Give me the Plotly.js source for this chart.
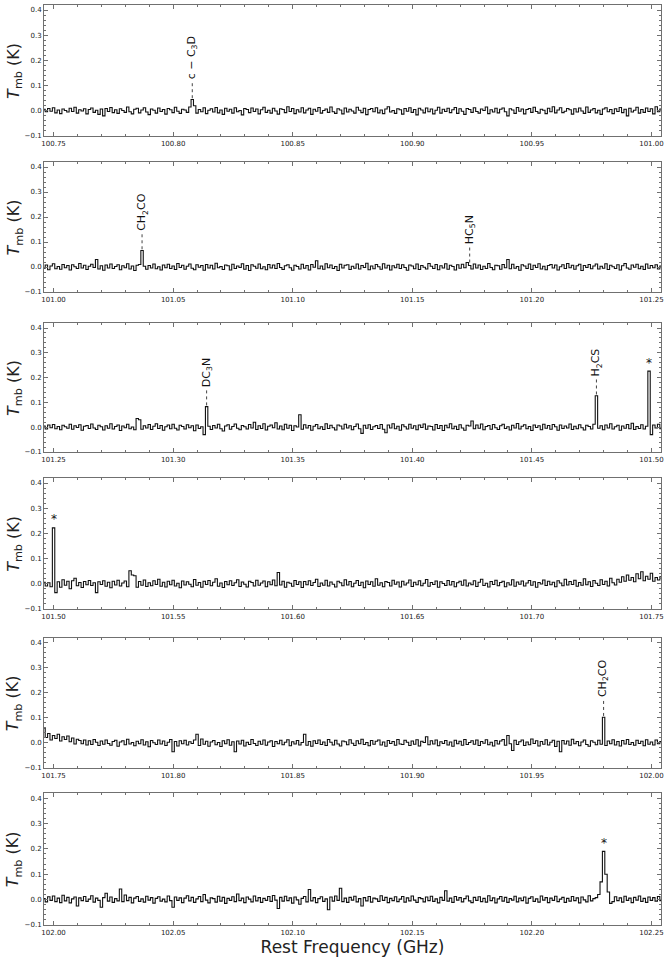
<!DOCTYPE html>
<html>
<head>
<meta charset="utf-8">
<script src="https://cdn.plot.ly/plotly-3.0.1.min.js"></script>
<style>html,body{margin:0;padding:0;background:#fff}#chart{width:667px;height:959px}</style>
</head>
<body>
<div id="chart"></div>
<script>
// Channel grid of each panel (GHz)
const channelWidth = 0.001;
const panelOrigins = [100.746, 100.996, 101.246, 101.496, 101.746, 101.996];
const panelEnds = [101.004, 101.254, 101.504, 101.754, 102.004, 102.254];
const panelTick0 = [100.75, 101.00, 101.25, 101.50, 101.75, 102.00];

// Main-beam temperature per channel, in mK
const tmb1 = [6,-4,9,-2,12,-8,3,-11,7,1,
-5,10,-3,14,-9,4,-1,8,-12,5,
11,-6,2,-14,7,-20,9,-3,13,-7,
4,-10,8,1,-6,15,-4,-12,6,10,
-8,3,12,-5,-15,7,2,-9,11,-3,
5,-13,9,4,-7,14,-2,-10,6,3,
-6,15,45,20,-9,5,-4,12,-11,2,
8,-5,13,-8,3,-14,10,-2,6,-9,
12,-4,1,-16,9,5,-7,11,-3,7,
-12,4,14,-6,2,-9,10,-1,-13,8,
5,-7,16,-3,9,-11,4,-5,12,-8,
3,10,-14,6,-2,13,-9,1,7,-6,
15,-4,-10,8,3,-12,11,-5,6,-1,
-9,14,2,-7,10,-15,5,9,-4,12,
-8,3,-11,7,16,-5,1,-10,8,4,
-13,9,-2,12,-6,5,-16,10,3,-8,
11,-4,7,-12,2,14,-9,6,-3,10,
-7,4,13,-10,8,-2,-14,9,5,-6,
12,-3,-9,7,1,15,-11,4,-5,10,
-8,6,11,-4,-20,8,3,-10,13,-2,
7,-12,5,9,-6,14,-3,-9,6,2,
-11,10,-4,16,-8,3,12,-7,-2,9,
4,-13,8,-5,11,-1,-10,15,-6,3,
9,-8,2,-14,7,12,-4,5,-11,8,
-3,13,-7,6,-20,10,-5,2,14,-9,
5,-6,11,-3,8,-12,16,-4,7];
const tmb2 = [-5,8,-11,4,13,-7,2,-9,10,-3,
6,-12,9,1,-6,14,-4,7,-10,3,
11,-2,30,-8,5,-13,8,-4,12,-6,
2,9,-11,5,-3,13,-8,4,-14,7,
10,66,3,-9,6,-4,12,-7,1,-12,
8,-3,11,-6,4,-10,14,-2,7,-9,
3,12,-5,-11,9,-1,6,-13,10,-4,
7,-8,15,-3,2,-10,8,5,-12,11,
-6,4,-2,13,-9,6,-14,9,3,-5,
12,-7,1,-11,10,-4,8,-6,14,-2,
-10,5,9,-3,-13,7,2,-8,11,-5,
6,-12,10,-1,25,-7,4,-9,13,-3,
8,-6,2,-14,11,-4,7,9,-10,3,
-5,12,-8,6,-2,15,-11,4,-7,10,
1,-9,13,-4,7,-12,5,-3,11,-6,
9,-2,-13,8,4,-7,12,-10,6,-1,
-8,14,3,-6,10,-11,5,-4,13,-9,
7,2,-12,9,-5,11,-3,18,6,-8,
12,-4,8,-10,3,-6,14,-2,-11,7,
5,-9,10,-3,30,-7,11,-5,2,-13,
9,4,-6,12,-10,7,-2,13,-8,3,
-11,6,10,-4,8,-12,1,9,-6,14,
-3,7,-9,5,11,-14,6,-2,10,-7,
4,12,-8,3,-5,13,-10,7,1,-6,
9,-12,5,14,-4,-9,8,-1,11,-7,
3,-10,12,-5,6,-3,9,-8,4];
const tmb3 = [5,-7,9,-2,11,-6,3,-10,8,2,
-4,12,-8,6,-1,10,-12,4,7,-5,
13,-3,-9,8,2,-11,6,-4,14,-7,
3,9,-13,5,-2,12,-6,1,-10,35,
30,-8,6,-3,11,-9,4,14,-5,7,
-12,2,9,-6,12,-4,-11,8,3,-7,
10,-2,6,-14,9,-5,2,-30,83,4,
-9,7,-3,12,-6,-15,5,10,-8,3,
13,-4,-10,7,2,-7,11,-3,20,-9,
6,-5,14,-11,4,9,-2,18,-7,5,
-10,12,-4,8,-13,6,1,50,-8,10,
-3,7,-12,4,11,-6,2,-9,14,-5,
8,-2,-11,9,5,-7,12,-3,6,-10,
3,13,-6,-25,8,-4,10,-9,2,7,
-5,11,-8,-22,9,-3,14,-6,4,-12,
10,2,-7,12,-4,6,-10,9,-1,13,
-8,5,3,-11,11,-5,7,-13,8,-2,
14,-6,4,-9,10,-3,-12,8,5,25,
-6,9,-4,13,-10,3,7,-8,11,-2,
-9,6,12,-5,2,-11,8,-3,15,-7,
4,10,-6,3,-13,9,-1,6,-10,12,
-4,7,-8,11,2,-12,9,-5,5,-3,
13,-9,4,-6,10,-2,-11,8,3,-7,
12,127,-4,6,-10,9,-3,14,-7,2,
8,-12,5,-4,11,-6,16,-9,3,-5,
10,-7,4,226,-30,9,-3,12,-6];
const tmb4 = [6,-9,4,-12,222,-35,8,-14,16,-6,
10,-20,12,22,-8,5,-15,9,-4,13,
-7,4,-35,8,-3,12,-10,6,-16,10,
-5,14,-9,3,11,-12,52,35,32,-14,
9,-6,15,-11,4,-8,12,-3,18,-10,
6,-13,10,-4,14,-9,2,-16,11,-5,
8,-2,-12,17,-6,5,-14,10,-3,13,
-8,6,20,-10,3,-15,9,-4,12,-7,
4,16,-11,7,-2,-13,10,5,-9,14,
-6,3,11,-12,8,-4,15,-8,45,-5,
10,-14,6,2,-10,13,-3,8,-15,9,
-4,12,-7,5,18,-11,3,-6,14,-9,
7,-2,-13,10,4,-8,16,-5,9,-12,
2,13,-7,6,-16,11,-3,8,-10,20,
-6,4,-12,9,5,-9,14,-2,7,-13,
10,-5,3,15,-11,6,-4,12,-8,2,
17,-10,5,-3,11,-14,8,1,-7,13,
-5,9,-12,4,10,-6,15,-9,3,-4,
12,-11,6,18,-7,2,-13,9,-3,14,
-8,5,10,-12,4,-5,16,-10,7,-2,
11,-9,3,13,-6,8,-14,5,-1,15,
-7,10,-4,6,-12,12,3,-8,18,-5,
9,-3,14,-10,5,-6,20,-4,8,-11,
13,2,-7,16,-3,10,-9,22,4,-5,
18,6,28,10,35,14,25,8,40,20,
48,12,30,18,42,10,25,15,28];
const tmb5 = [60,22,38,12,30,18,35,8,25,14,
28,5,20,-4,15,10,-3,12,-8,9,
-6,14,3,-10,8,-5,12,-2,-9,6,
11,-13,4,9,-7,15,-4,2,-11,7,
-3,13,-8,5,-15,10,1,-6,12,-4,
8,-10,3,14,-35,6,-12,9,-3,11,
-8,5,-2,12,35,-10,16,-5,7,-13,
4,10,-7,2,-14,9,-3,13,-9,5,
-35,8,-4,11,-12,3,-6,14,-2,-10,
7,-5,12,-9,4,9,-14,6,-3,11,
-7,3,13,-11,5,-4,10,-8,2,35,
-9,6,-13,9,-2,12,-6,4,-10,14,
3,-8,11,-4,-12,8,5,-7,13,-1,
-10,9,-3,15,-6,2,-11,10,-5,7,
12,-8,4,-13,10,-2,6,-9,14,-4,
-6,11,3,-10,8,-5,13,-12,7,2,
25,-7,9,-4,12,-11,5,-2,10,-8,
4,-13,11,-3,7,-9,14,-6,2,9,
-5,12,-10,6,-1,13,-7,3,-12,10,
-4,8,14,-9,30,-3,-30,11,-6,5,
12,-10,4,-7,16,-2,9,-12,6,-5,
13,-8,3,11,-14,7,-35,10,-4,8,
-9,15,-3,6,-11,4,12,-6,-13,9,
3,-7,11,-5,103,-10,8,-3,13,-8,
6,-12,10,-4,14,-6,2,-9,11,-2,
7,-11,13,-5,4,-8,12,-3,6];
const tmb6 = [4,-9,11,-3,14,-8,6,-12,17,-5,
9,-13,3,10,-25,7,-4,12,-7,2,
15,-10,6,-3,-30,8,25,-6,10,-11,
4,-5,42,-8,18,-4,9,-13,6,12,
-7,3,-10,13,-2,8,-14,5,11,-6,
2,-9,14,-4,-30,10,-3,7,-12,6,
15,-5,9,-11,3,12,-8,20,-2,-13,
7,4,-10,13,-6,9,-15,5,-3,11,
-8,22,-4,6,-12,10,2,-9,14,-5,
8,-11,5,-3,12,-7,16,-2,-35,9,
-6,13,-4,7,-14,10,-1,-18,5,12,
-9,40,-5,8,-12,4,11,-7,3,-40,
10,-6,14,-3,45,-8,6,-11,9,-2,
13,-9,4,-25,8,-5,12,-10,6,3,
-7,15,-3,9,-12,5,-4,11,-8,2,
12,-10,7,-5,14,-2,-11,8,4,-9,
10,-4,13,-7,3,-13,9,-3,35,-6,
6,-11,12,-2,8,-9,4,14,-5,-12,
9,-3,11,-8,5,-10,15,-4,7,-13,
3,12,-6,9,-11,4,-2,13,-9,6,
-4,10,-14,5,11,-7,3,-10,14,-2,
8,-12,6,-3,13,-8,2,9,-11,5,
-6,12,-4,7,-13,10,-1,-9,15,-5,
4,8,20,70,190,100,30,-15,-8,11,
-4,7,-10,13,-3,6,-12,9,-2,14,
-7,5,-11,10,-3,8,-6,12,-4];
const panelData = [tmb1, tmb2, tmb3, tmb4, tmb5, tmb6];

// Line identifications: panel index, channel index, label
const lineLabels = ["c − C<sub>3</sub>D", "CH<sub>2</sub>CO", "HC<sub>5</sub>N", "DC<sub>3</sub>N", "H<sub>2</sub>CS", "*", "*", "CH<sub>2</sub>CO", "*"];
const linePanels = [0, 1, 1, 2, 2, 2, 3, 4, 5];
const lineChannels = [62, 41, 178, 68, 231, 253, 4, 234, 234];
const lineBaseOffsetK = [0.005, 0.005, 0.012, 0.005, 0.005, 0.0, 0.0, 0.005, 0.0];

const yTitle = '<i>T</i><sub>mb</sub> (K)';
const xTitle = 'Rest Frequency (GHz)';

// Domains (paper fraction)
const yDomains = [[0.8576, 1.0], [0.6880, 0.8293], [0.5141, 0.6543], [0.3435, 0.4859], [0.1707, 0.3120], [0.0, 0.1435]];

const FONT = 'DejaVu Sans, Liberation Sans, sans-serif';
const FRAME = '#707070';

const traces = panelData.map((vals, k) => ({
  type: 'scatter', mode: 'lines',
  x: vals.map((v, i) => panelOrigins[k] + i * channelWidth),
  y: vals.map(v => v / 1000),
  xaxis: k === 0 ? 'x' : 'x' + (k + 1),
  yaxis: k === 0 ? 'y' : 'y' + (k + 1),
  line: {color: '#111', width: 1.1, shape: 'hvh'},
  hoverinfo: 'skip', showlegend: false
}));

const layout = {
  width: 667, height: 959,
  margin: {l: 44, r: 6, t: 5, b: 34},
  paper_bgcolor: '#fff', plot_bgcolor: '#fff',
  font: {family: FONT, color: '#222', size: 7},
  showlegend: false,
  shapes: [], annotations: []
};

for (let k = 0; k < 6; k++) {
  const xn = k === 0 ? 'xaxis' : 'xaxis' + (k + 1);
  const yn = k === 0 ? 'yaxis' : 'yaxis' + (k + 1);
  const xa = k === 0 ? 'x' : 'x' + (k + 1);
  const ya = k === 0 ? 'y' : 'y' + (k + 1);
  layout[xn] = {
    domain: [0, 1], anchor: ya, range: [panelOrigins[k], panelEnds[k]],
    tick0: panelTick0[k], dtick: 0.05, tickformat: '.2f',
    ticks: 'inside', ticklen: 4, tickwidth: 1, tickcolor: FRAME,
    minor: {ticks: 'inside', ticklen: 2, dtick: 0.01, tickcolor: FRAME, showgrid: false},
    showline: true, linecolor: FRAME, linewidth: 1, mirror: 'allticks',
    showgrid: false, zeroline: false, ticklabelstandoff: 1,
    tickfont: {family: FONT, size: 7, color: '#222'}
  };
  if (k === 5) {
    layout[xn].title = {text: xTitle, font: {family: FONT, size: 17, color: '#222'}, standoff: 2};
  }
  layout[yn] = {
    domain: yDomains[k], anchor: xa, range: [-0.1, 0.42],
    tick0: 0, dtick: 0.1, tickformat: '.1f',
    ticks: 'inside', ticklen: 4, tickwidth: 1, tickcolor: FRAME,
    minor: {ticks: 'inside', ticklen: 2, dtick: 0.02, tickcolor: FRAME, showgrid: false},
    showline: true, linecolor: FRAME, linewidth: 1, mirror: 'allticks',
    showgrid: false, zeroline: false,
    tickfont: {family: FONT, size: 7, color: '#222'}
  };
  // y-axis title as a rotated annotation, centred on the panel
  layout.annotations.push({
    xref: 'paper', yref: 'paper', x: -0.048, y: (yDomains[k][0] + yDomains[k][1]) / 2,
    text: yTitle, showarrow: false, textangle: -90, xanchor: 'center', yanchor: 'middle',
    font: {family: FONT, size: 16, color: '#222'}, borderpad: 0
  });
}

lineLabels.forEach((lab, n) => {
  const k = linePanels[n];
  const ch = lineChannels[n];
  const xa = k === 0 ? 'x' : 'x' + (k + 1);
  const ya = k === 0 ? 'y' : 'y' + (k + 1);
  const f = panelOrigins[k] + ch * channelWidth;
  const peak = panelData[k][ch] / 1000;
  if (lab === '*') {
    layout.annotations.push({
      xref: xa, yref: ya, x: f, y: peak + 0.002, text: '*', showarrow: false,
      xanchor: 'center', yanchor: 'bottom', font: {family: FONT, size: 12, color: '#111'}, borderpad: 0
    });
  } else {
    const y0 = peak + lineBaseOffsetK[n];
    const y1 = y0 + 0.07;
    layout.shapes.push({
      type: 'line', xref: xa, yref: ya, x0: f, x1: f, y0: y0, y1: y1,
      line: {color: '#444', width: 1, dash: 'dot'}
    });
    layout.annotations.push({
      xref: xa, yref: ya, x: f, y: y1, text: lab, showarrow: false, textangle: -90,
      xanchor: 'center', yanchor: 'bottom', font: {family: FONT, size: 11, color: '#111'}, borderpad: 0
    });
  }
});

Plotly.newPlot('chart', traces, layout, {displayModeBar: false, staticPlot: true});
</script>
</body>
</html>
